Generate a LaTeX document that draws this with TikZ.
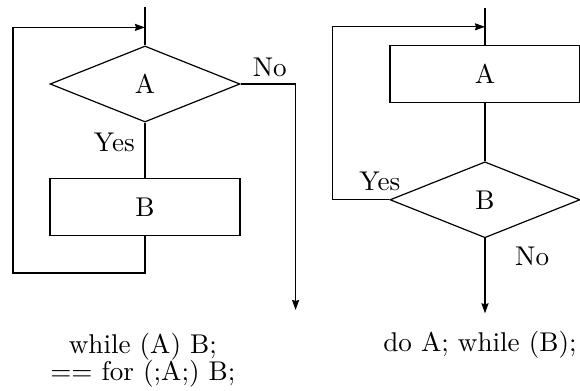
\documentclass[tikz,border=0pt]{standalone}
\usepackage{fontspec}
\setmainfont{lmroman10-regular.otf}
\usetikzlibrary{shapes.geometric, arrows.meta, positioning, calc}

\begin{document}
\begin{tikzpicture}[node distance=1.9cm, font=\fontsize{27}{22}\selectfont]
        \tikzstyle{decision} = [diamond, aspect=2.5, minimum width=6.65cm, minimum height=2.66cm, inner sep=0pt, draw=black, line width=1.2pt]
        \tikzstyle{process} = [rectangle, minimum width=6.65cm, minimum height=2.0cm, text centered, draw=black, line width=1.2pt]
        \tikzstyle{tag} = [inner sep=0pt]
        \tikzstyle{line} = [line width=1.2pt]
        \tikzstyle{arrow} = [line width=1.2pt,-{Stealth[length=10pt, width=7pt, inset=1pt]}]

        \useasboundingbox (0,0) rectangle (20.3,13.65);

        % while (A) B;
        \node (condA) [decision] at (5.075,10.71) {A};
        \node (bodyB) [process, below=1.925cm of condA] {B};
        \coordinate (wtop) at ($(condA.north)+(0,1.33)$);
        \coordinate (wloop) at ($(condA.north)+(0,0.63)$);
        \coordinate (wexit) at ($(condA.east)+(1.925,-7.91)$);
        \node (yesA) [tag, below left=0.35cm and 0.35cm of condA.south] {Yes};
        \node (noA) [tag, above right=0.245cm and 0.42cm of condA.east] {No};

        \draw [line] (wtop) -- (condA.north);
        \draw [line] (condA.south) -- (bodyB.north);
        \draw [arrow] (bodyB.south) -- ++(0,-1.295) -| ($(wloop)+(-4.62,0)$) -- (wloop);
        \draw [arrow] (condA.east) -| (wexit);

        % do A; while (B);
        \node (bodyA) [process] at (16.975,11.06) {A};
        \node (condB) [decision, below=2.03cm of bodyA] {B};
        \coordinate (dtop) at ($(bodyA.north)+(0,1.295)$);
        \coordinate (dloop) at ($(bodyA.north)+(0,0.63)$);
        \coordinate (dexit) at ($(condB.south)+(0,-2.625)$);
        \node (yesB) [tag, anchor=south east] at ($(condB.west)+(0.385,0.315)$) {Yes};
        \node (noB) [tag, below right=0.28cm and 1.05cm of condB.south] {No};

        \draw [line] (dtop) -- (bodyA.north);
        \draw [line] (bodyA.south) -- (condB.north);
        \draw [arrow] (condB.west) -- ++(-1.995,0) |- (dloop);
        \draw [arrow] (condB.south) -- (dexit);

        \node (whilecode) [align=center] at (5.0,1.05) {while (A) B;\\[-1pt]== for (;A;) B;};
        \node (docode) [anchor=base] at (16.8,1.365) {do A; while (B);};
    \end{tikzpicture}
\end{document}
